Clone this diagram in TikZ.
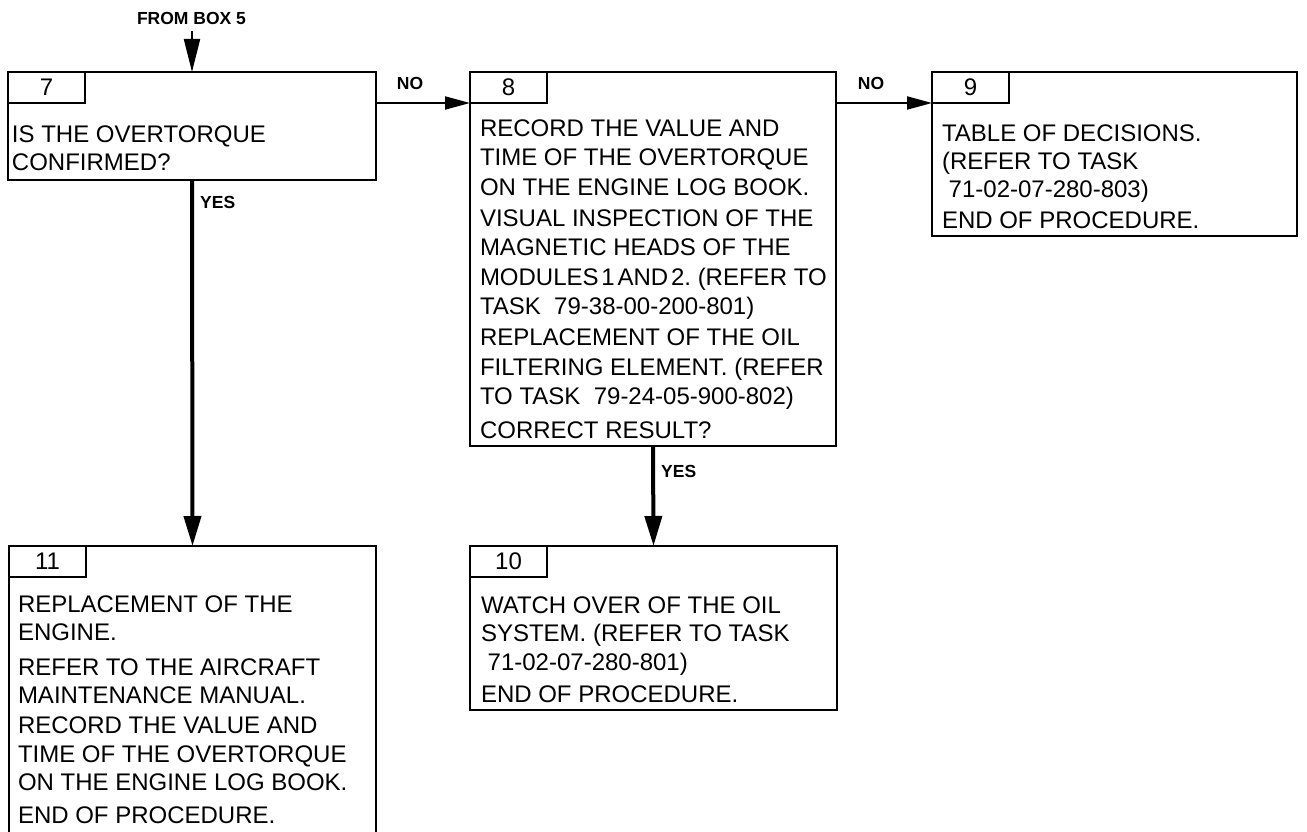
\documentclass[tikz,border=0pt]{standalone}
\usepackage{fontspec}
\setmainfont{Liberation Sans}
\usetikzlibrary{arrows.meta,calc}
\frenchspacing
\tikzset{
  box/.style={draw, line width=2.5pt, inner sep=0pt, outer sep=0pt, anchor=north west},
  tabbox/.style={draw, line width=2.5pt, inner sep=0pt, outer sep=0pt, anchor=north west,
    minimum width=77pt, minimum height=31pt, font=\fontsize{24}{29}\selectfont},
  body/.style={anchor=north west, inner sep=0pt, outer sep=0pt, align=left},
  lbl/.style={font=\bfseries\fontsize{17.5}{20}\selectfont, inner sep=0pt},
  noarr/.style={line width=2pt, -{Triangle[length=25pt,width=13pt]}},
  yesarr/.style={line width=4pt, -{Triangle[length=30pt,width=17pt]}},
  fromarr/.style={line width=2pt, -{Triangle[length=33pt,width=16pt]}},
}
\newcommand{\strt}{\rule{0pt}{20pt}}
\newcommand{\nsp}{\hspace{2.8pt}}
\begin{document}
\begin{tikzpicture}[x=1pt,y=-1pt]
\useasboundingbox (0,0) rectangle (1307,832);

% boxes
\node[box, minimum width=368pt, minimum height=108pt] (b7) at (8,72) {};
\node[box, minimum width=366pt, minimum height=374pt] (b8) at (470,72) {};
\node[box, minimum width=365pt, minimum height=164pt] (b9) at (932,72) {};
\node[box, minimum width=367pt, minimum height=164pt] (b10) at (470,546) {};
\node[box, minimum width=367pt, minimum height=310pt] (b11) at (9,546) {};

% number tabs
\node[tabbox] (t7) at (b7.north west) {7};
\node[tabbox] (t8) at (b8.north west) {8};
\node[tabbox] (t9) at (b9.north west) {9};
\node[tabbox] (t10) at (b10.north west) {10};
\node[tabbox] (t11) at (b11.north west) {11};

% texts
\node[body, font=\fontsize{24}{28}\selectfont] (x7) at (12,123)
  {\strt IS THE OVERTORQUE\\CONFIRMED?};
\node[body, font=\fontsize{24}{29.5}\selectfont] (x8) at (480,116)
  {\strt RECORD THE VALUE AND\\TIME OF THE OVERTORQUE\\ON THE ENGINE LOG BOOK.\\[1.5pt]
   VISUAL INSPECTION OF THE\\MAGNETIC HEADS OF THE\\MODULES\nsp 1\nsp AND\nsp 2. (REFER TO\\TASK\ \ 79-38-00-200-801)\\[1.5pt]
   REPLACEMENT OF THE OIL\\FILTERING ELEMENT. (REFER\\TO TASK\ \ 79-24-05-900-802)\\[4.5pt]
   CORRECT RESULT?};
\node[body, font=\fontsize{24}{28}\selectfont] (x9) at (942,121)
  {\strt TABLE OF DECISIONS.\\(REFER TO TASK\\\hspace*{0.28em}71-02-07-280-803)\\[3pt]END OF PROCEDURE.};
\node[body, font=\fontsize{24}{28.5}\selectfont] (x10) at (481,593)
  {\strt WATCH OVER OF THE OIL\\SYSTEM. (REFER TO TASK\\\hspace*{0.28em}71-02-07-280-801)\\[3.5pt]END OF PROCEDURE.};
\node[body, font=\fontsize{24}{28.5}\selectfont] (x11) at (18,592)
  {\strt REPLACEMENT OF THE\\ENGINE.\\[6pt]REFER TO THE AIRCRAFT\\MAINTENANCE MANUAL.\\[1.5pt]
   RECORD THE VALUE AND\\TIME OF THE OVERTORQUE\\ON THE ENGINE LOG BOOK.\\[4.5pt]END OF PROCEDURE.};

% labels
\node[lbl] (from) at (191.5,18) {FROM BOX 5};
\node[lbl] (no1) at (410,83) {NO};
\node[lbl] (no2) at (871,83) {NO};
\node[lbl, anchor=west] (yes1) at (200,202) {YES};
\node[lbl, anchor=west] (yes2) at (661,471) {YES};

% connectors
\coordinate (fromend) at (192,31);
\draw[fromarr] (fromend) -- (b7.north);
\draw[noarr] (b7.east |- t8.south) -- (t8.south west);
\draw[noarr] (b8.east |- t9.south) -- (t9.south west);
\draw[yesarr] (b7.south) -- (b11.north);
\draw[yesarr] (b8.south) -- (b10.north);
\end{tikzpicture}
\end{document}
